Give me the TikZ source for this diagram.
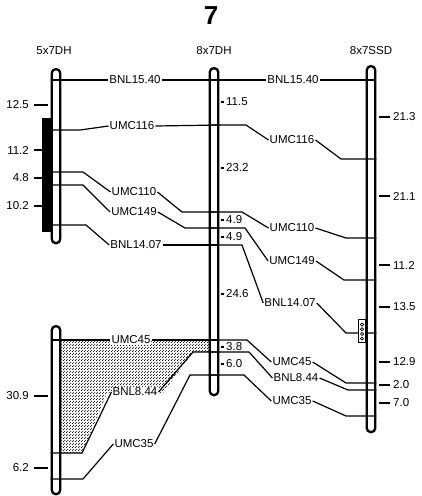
\documentclass[tikz,border=0pt]{standalone}
\usepackage{fontspec}
\setmainfont{Liberation Sans}
\usetikzlibrary{patterns}
\pgfdeclarepatternformonly{densedots}{\pgfpointorigin}{\pgfpoint{3pt}{3pt}}{\pgfpoint{3pt}{3pt}}{%
  \pgfpathcircle{\pgfpoint{0.75pt}{0.75pt}}{0.7pt}%
  \pgfpathcircle{\pgfpoint{2.25pt}{2.25pt}}{0.7pt}%
  \pgfusepath{fill}}
\begin{document}
\begin{tikzpicture}[x=1pt,y=-1pt,
  chrom/.style={draw, line width=2.3pt, fill=white, rounded corners=4pt, minimum width=8.5pt, inner sep=0pt},
  mk/.style={line width=1.2pt},
  lab/.style={font=\fontsize{11.5}{13}\selectfont, inner sep=1pt, fill=white},
  num/.style={font=\fontsize{11.5}{13}\selectfont, inner sep=0pt},
  tk/.style={line width=1.2pt}]
\useasboundingbox[fill=white] (0,0) rectangle (422,496);

% title and headers
\node[font=\bfseries\fontsize{26}{28}\selectfont, inner sep=0pt] (title) at (211,16) {7};
\node[num] (h1) at (54,51) {5x7DH};
\node[num] (h2) at (214,51) {8x7DH};
\node[num] (h3) at (371,51) {8x7SSD};

% shaded region
\fill[pattern=densedots] (61,340) -- (211,340) -- (211,352) -- (193,352) -- (163,393) -- (107,393) -- (82,453) -- (61,453) -- cycle;

% black bar
\fill (42,118) rectangle (52,232);

% chromosomes
\node[chrom, minimum height=174pt, anchor=north] (c1a) at (56,68) {};
\node[chrom, minimum height=168pt, anchor=north] (c1b) at (56,325) {};
\node[chrom, minimum height=327pt, anchor=north] (c2) at (214,67) {};
\node[chrom, minimum height=366pt, anchor=north] (c3) at (371,65) {};

% labels left group
\node[lab] (aBNL1540) at (135,80) {BNL15.40};
\node[lab] (aUMC116) at (132,126) {UMC116};
\node[lab] (aUMC110) at (134,192) {UMC110};
\node[lab] (aUMC149) at (134,212) {UMC149};
\node[lab] (aBNL1407) at (136,245) {BNL14.07};
\node[lab] (aUMC45) at (131,340) {UMC45};
\node[lab] (aBNL844) at (135,392) {BNL8.44};
\node[lab] (aUMC35) at (134,444) {UMC35};
% labels right group
\node[lab] (bBNL1540) at (293,80) {BNL15.40};
\node[lab] (bUMC116) at (292,140) {UMC116};
\node[lab] (bUMC110) at (292,228) {UMC110};
\node[lab] (bUMC149) at (292,261) {UMC149};
\node[lab] (bBNL1407) at (290,303) {BNL14.07};
\node[lab] (bUMC45) at (292,362) {UMC45};
\node[lab] (bBNL844) at (296,378) {BNL8.44};
\node[lab] (bUMC35) at (292,401) {UMC35};

% connectors 5x7DH -> 8x7DH
\draw[mk] (c1a.west |- 0,80) -- (aBNL1540.west);
\draw[mk] (aBNL1540.east) -- (c2.east |- 0,80);
\draw[mk] (c1a.west |- 0,130) -- (80,130) -- (aUMC116.west);
\draw[mk] (aUMC116.east) -- (c2.east |- 0,125);
\draw[mk] (c1a.west |- 0,172) -- (83,172) -- (aUMC110.west);
\draw[mk] (aUMC110.east) -- (182,212) -- (c2.east |- 0,212);
\draw[mk] (c1a.west |- 0,185) -- (83,185) -- (aUMC149.west);
\draw[mk] (aUMC149.east) -- (185,228) -- (c2.east |- 0,228);
\draw[mk] (c1a.west |- 0,225) -- (86,225) -- (aBNL1407.west);
\draw[mk] (aBNL1407.east) -- (c2.east |- 0,245);
\draw[mk] (c1b.west |- 0,340) -- (aUMC45.west);
\draw[mk] (aUMC45.east) -- (c2.east |- 0,340);
\draw[mk] (c1b.west |- 0,453) -- (82,453) -- (aBNL844.west);
\draw[mk] (aBNL844.east) -- (193,352) -- (c2.east |- 0,352);
\draw[mk] (c1b.west |- 0,479) -- (83,479) -- (aUMC35.west);
\draw[mk] (aUMC35.east) -- (190,375) -- (c2.east |- 0,375);

% connectors 8x7DH -> 8x7SSD
\draw[mk] (c2.west |- 0,80) -- (bBNL1540.west);
\draw[mk] (bBNL1540.east) -- (c3.east |- 0,80);
\draw[mk] (c2.west |- 0,125) -- (246,125) -- (bUMC116.west);
\draw[mk] (bUMC116.east) -- (341,159) -- (c3.east |- 0,159);
\draw[mk] (c2.west |- 0,212) -- (242,212) -- (bUMC110.west);
\draw[mk] (bUMC110.east) -- (346,238) -- (c3.east |- 0,238);
\draw[mk] (c2.west |- 0,228) -- (245,228) -- (bUMC149.west);
\draw[mk] (bUMC149.east) -- (344,280) -- (c3.east |- 0,280);
\draw[mk] (c2.west |- 0,245) -- (242,245) -- (bBNL1407.west);
\draw[mk] (bBNL1407.east) -- (346,333) -- (c3.east |- 0,333);
\draw[mk] (c2.west |- 0,340) -- (247,340) -- (bUMC45.west);
\draw[mk] (bUMC45.east) -- (346,383) -- (c3.east |- 0,383);
\draw[mk] (c2.west |- 0,352) -- (249,352) -- (bBNL844.west);
\draw[mk] (bBNL844.east) -- (348,390) -- (c3.east |- 0,390);
\draw[mk] (c2.west |- 0,375) -- (244,375) -- (bUMC35.west);
\draw[mk] (bUMC35.east) -- (346,416) -- (c3.east |- 0,416);

% small box on 8x7SSD
\node[draw, line width=1.3pt, fill=white, minimum width=7pt, minimum height=23pt, inner sep=0pt] (qbox) at (362,331) {};
\foreach \yy in {324.5,329.2,333.9,338.6} \draw[line width=0.7pt] (362,\yy) circle (1.6pt);

% distances 5x7DH (left)
\foreach \yy/\tt in {105/12.5,150/11.2,178/4.8,206/10.2,396/30.9,468/6.2}
  {\draw[tk] (34,\yy) -- (48,\yy); \node[num, anchor=east] at (29,\yy) {\tt};}
% distances 8x7DH
\foreach \yy/\tt in {102/11.5,168/23.2,220/4.9,237/4.9,294/24.6,347/3.8,364/6.0}
  {\draw[tk] (221,\yy) -- (224,\yy); \node[num, anchor=west] at (226,\yy) {\tt};}
% distances 8x7SSD
\foreach \yy/\tt in {117/21.3,196/21.1,265/11.2,307/13.5,362/12.9,385/2.0,403/7.0}
  {\draw[tk] (379,\yy) -- (390,\yy); \node[num, anchor=west] at (393,\yy) {\tt};}
\end{tikzpicture}
\end{document}
